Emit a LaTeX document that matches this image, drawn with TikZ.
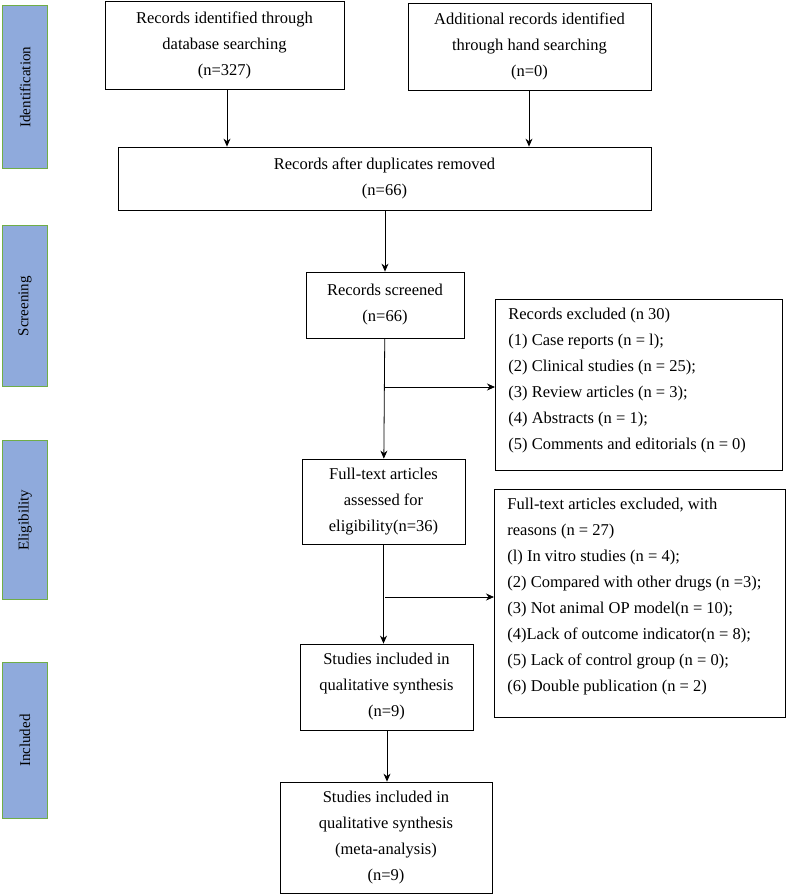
\documentclass[tikz,border=0pt]{standalone}
\usepackage{fontspec}
\setmainfont{Liberation Serif}
\usetikzlibrary{positioning,arrows.meta}
\definecolor{phase}{RGB}{143,170,220}
\definecolor{phaseline}{RGB}{112,173,71}
\begin{document}
\begin{tikzpicture}[%
    x=1pt, y=-1pt,
    >={Stealth[length=8pt,width=7pt]},
    font=\fontsize{16.5}{26}\selectfont,
    box/.style={draw, thick, align=center, inner sep=0pt},
    note/.style={align=left, anchor=north west, inner sep=0pt},
    phase/.style={draw=phaseline, very thick, fill=phase, inner sep=0pt,
                  font=\fontsize{15}{18}\selectfont},
    thick
  ]
    \useasboundingbox (0,0) rectangle (786,895);
    % phases
    \foreach \y/\b/\t in {5/168/Identification, 225/386/Screening, 440/599/Eligibility, 662/818/Included}
      \node[phase, minimum width=45, minimum height=\b-\y, anchor=north west] at (2,\y)
        {\rotatebox{90}{\t}};
    % boxes
    \node[box, minimum width=239, minimum height=88] (ident) at (224.5,45)
      {Records identified through\\database searching\\(n=327)};
    \node[box, minimum width=243, minimum height=87] (hand) at (529.5,46.5)
      {Additional records identified\\through hand searching\\(n=0)};
    \node[box, minimum width=533, minimum height=63] (dup) at (384.5,178.5)
      {Records after duplicates removed\\(n=66)};
    \node[box, minimum width=158, minimum height=66] (scr) at (385,305)
      {Records screened\\(n=66)};
    \node[box, minimum width=163, minimum height=85] (full) at (383.5,501.5)
      {Full-text articles\\assessed for\\eligibility(n=36)};
    \node[box, minimum width=173, minimum height=86] (incl) at (386.5,687)
      {Studies included in\\qualitative synthesis\\(n=9)};
    \node[box, minimum width=212, minimum height=111] (meta) at (386,837.5)
      {Studies included in\\qualitative synthesis\\(meta-analysis)\\(n=9)};
    \node[box, minimum width=287, minimum height=171, anchor=north west] (exclbox) at (495,299) {};
    \node[note] (excl) at (508,308)
      {Records excluded (n 30)\\
       (1) Case reports (n = l);\\
       (2) Clinical studies (n = 25);\\
       (3) Review articles (n = 3);\\
       (4) Abstracts (n = 1);\\
       (5) Comments and editorials (n = 0)};
    \node[box, minimum width=291, minimum height=228, anchor=north west] (excl2box) at (494,489) {};
    \node[note] (excl2) at (507,498)
      {Full-text articles excluded, with\\
       reasons (n = 27)\\
       (l) In vitro studies (n = 4);\\
       (2) Compared with other drugs (n =3);\\
       (3) Not animal OP model(n = 10);\\
       (4)Lack of outcome indicator(n = 8);\\
       (5) Lack of control group (n = 0);\\
       (6) Double publication (n = 2)};
    % connectors
    \coordinate (s1) at (385,387);
    \coordinate (s2) at (385,597);
    \draw[->] (ident.south -| 227,0) -- (dup.north -| 227,0);
    \draw[->] (hand.south -| 529,0) -- (dup.north -| 529,0);
    \draw[->] (dup.south -| scr) -- (scr.north);
    \draw[->] (scr) -- (full);
    \draw[->] (s1) -- (s1 -| exclbox.west);
    \draw[->] (full) -- (incl.north -| full);
    \draw[->] (s2) -- (s2 -| excl2box.west);
    \draw[->] (incl.south -| 387,0) -- (meta.north -| 387,0);
  \end{tikzpicture}
\end{document}
